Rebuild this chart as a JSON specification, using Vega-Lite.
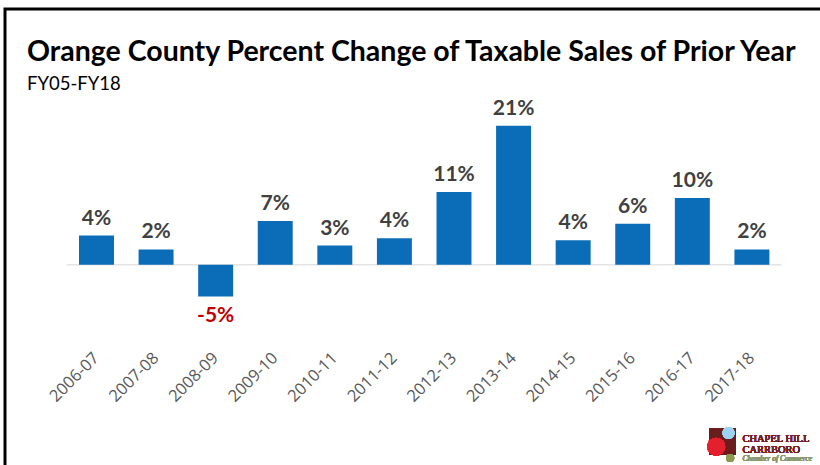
{
  "$schema": "https://vega.github.io/schema/vega-lite/v6.json",
  "autosize": {"type": "none"},
  "padding": {"left": 5, "top": 9, "right": -5, "bottom": -5},
  "width": 820,
  "height": 461,
  "background": "white",
  "config": {
    "view": {"stroke": "#000000", "strokeWidth": 3},
    "locale": {"number": {"decimal": ".", "thousands": ",", "grouping": [3], "currency": ["$", ""], "minus": "-"}}
  },
  "title": {
    "text": "Orange County Percent Change of Taxable Sales of Prior Year",
    "subtitle": "FY05-FY18",
    "anchor": "start",
    "frame": "group",
    "orient": "top",
    "offset": -84,
    "dx": 22,
    "font": "Lato",
    "fontSize": 28.5,
    "fontWeight": "bold",
    "color": "#000000",
    "subtitleFont": "Lato",
    "subtitleFontSize": 18.5,
    "subtitleColor": "#000000",
    "subtitlePadding": 8
  },
  "data": {
    "values": [
      {"year": "2006-07", "value": 0.044},
      {"year": "2007-08", "value": 0.023},
      {"year": "2008-09", "value": -0.048},
      {"year": "2009-10", "value": 0.066},
      {"year": "2010-11", "value": 0.029},
      {"year": "2011-12", "value": 0.040},
      {"year": "2012-13", "value": 0.110},
      {"year": "2013-14", "value": 0.210},
      {"year": "2014-15", "value": 0.037},
      {"year": "2015-16", "value": 0.062},
      {"year": "2016-17", "value": 0.101},
      {"year": "2017-18", "value": 0.023}
    ]
  },
  "encoding": {
    "x": {
      "field": "year",
      "type": "nominal",
      "sort": null,
      "scale": {"range": [61.7, 776.7], "paddingInner": 0.413, "paddingOuter": 0.2065},
      "axis": {
        "title": null,
        "labelAngle": -45,
        "labelAlign": "right",
        "labelBaseline": "middle",
        "labelFont": "Open Sans",
        "labelFontSize": 16.5,
        "labelColor": "#595959",
        "domain": false,
        "ticks": false,
        "grid": false,
        "labelPadding": 0,
        "offset": -115
      }
    }
  },
  "layer": [
    {
      "mark": {"type": "tick", "orient": "horizontal", "size": 59.6, "thickness": 1.5, "color": "#D9D9D9"},
      "encoding": {
        "y": {"datum": 0, "type": "quantitative", "scale": {"domain": [-0.3106, 0.3868], "nice": false, "zero": false}, "axis": null}
      }
    },
    {
      "mark": {"type": "bar", "color": "#0B6DB7"},
      "encoding": {
        "y": {"field": "value", "type": "quantitative", "axis": null}
      }
    },
    {
      "transform": [{"filter": "datum.value >= 0"}],
      "mark": {"type": "text", "baseline": "bottom", "dy": -7, "font": "Lato", "fontWeight": "bold", "fontSize": 21, "color": "#404040"},
      "encoding": {
        "y": {"field": "value", "type": "quantitative", "axis": null},
        "text": {"field": "value", "type": "quantitative", "format": ".0%"}
      }
    },
    {
      "transform": [{"filter": "datum.value < 0"}],
      "mark": {"type": "text", "baseline": "top", "dy": 9, "font": "Lato", "fontWeight": "bold", "fontSize": 21, "color": "#C00000"},
      "encoding": {
        "y": {"field": "value", "type": "quantitative", "axis": null},
        "text": {"field": "value", "type": "quantitative", "format": ".0%"}
      }
    },
    {
      "mark": {"type": "point", "shape": "square", "filled": true, "size": 700, "color": "#6B1D1D", "opacity": 1},
      "encoding": {
        "x": {"datum": "2016-17", "bandPosition": 1.363},
        "y": {"datum": -0.2675, "type": "quantitative"}
      }
    },
    {
      "mark": {"type": "point", "shape": "circle", "filled": true, "size": 324, "color": "#E4202E", "opacity": 1},
      "encoding": {
        "x": {"datum": "2016-17", "bandPosition": 1.183},
        "y": {"datum": -0.2753, "type": "quantitative"}
      }
    },
    {
      "mark": {"type": "point", "shape": "circle", "filled": true, "size": 144, "color": "#9DD3F0", "opacity": 1},
      "encoding": {
        "x": {"datum": "2016-17", "bandPosition": 1.534},
        "y": {"datum": -0.2546, "type": "quantitative"}
      }
    },
    {
      "mark": {"type": "point", "shape": "circle", "filled": true, "size": 64, "color": "#8A9A50", "opacity": 1},
      "encoding": {
        "x": {"datum": "2016-17", "bandPosition": 1.583},
        "y": {"datum": -0.2924, "type": "quantitative"}
      }
    },
    {
      "mark": {"type": "text", "align": "left", "baseline": "alphabetic", "font": "Liberation Serif", "fontSize": 10.5, "color": "#7A1F1F", "text": "CHAPEL HILL"},
      "encoding": {
        "x": {"datum": "2017-18", "bandPosition": 0.229},
        "y": {"datum": -0.2682, "type": "quantitative"}
      }
    },
    {
      "mark": {"type": "text", "align": "left", "baseline": "alphabetic", "font": "Liberation Serif", "fontSize": 10.5, "color": "#7A1F1F", "text": "CARRBORO"},
      "encoding": {
        "x": {"datum": "2017-18", "bandPosition": 0.229},
        "y": {"datum": -0.2844, "type": "quantitative"}
      }
    },
    {
      "mark": {"type": "text", "align": "left", "baseline": "alphabetic", "font": "Liberation Serif", "fontStyle": "italic", "fontSize": 7.5, "color": "#8A9A70", "text": "Chamber of Commerce"},
      "encoding": {
        "x": {"datum": "2017-18", "bandPosition": 0.229},
        "y": {"datum": -0.297, "type": "quantitative"}
      }
    }
  ]
}
